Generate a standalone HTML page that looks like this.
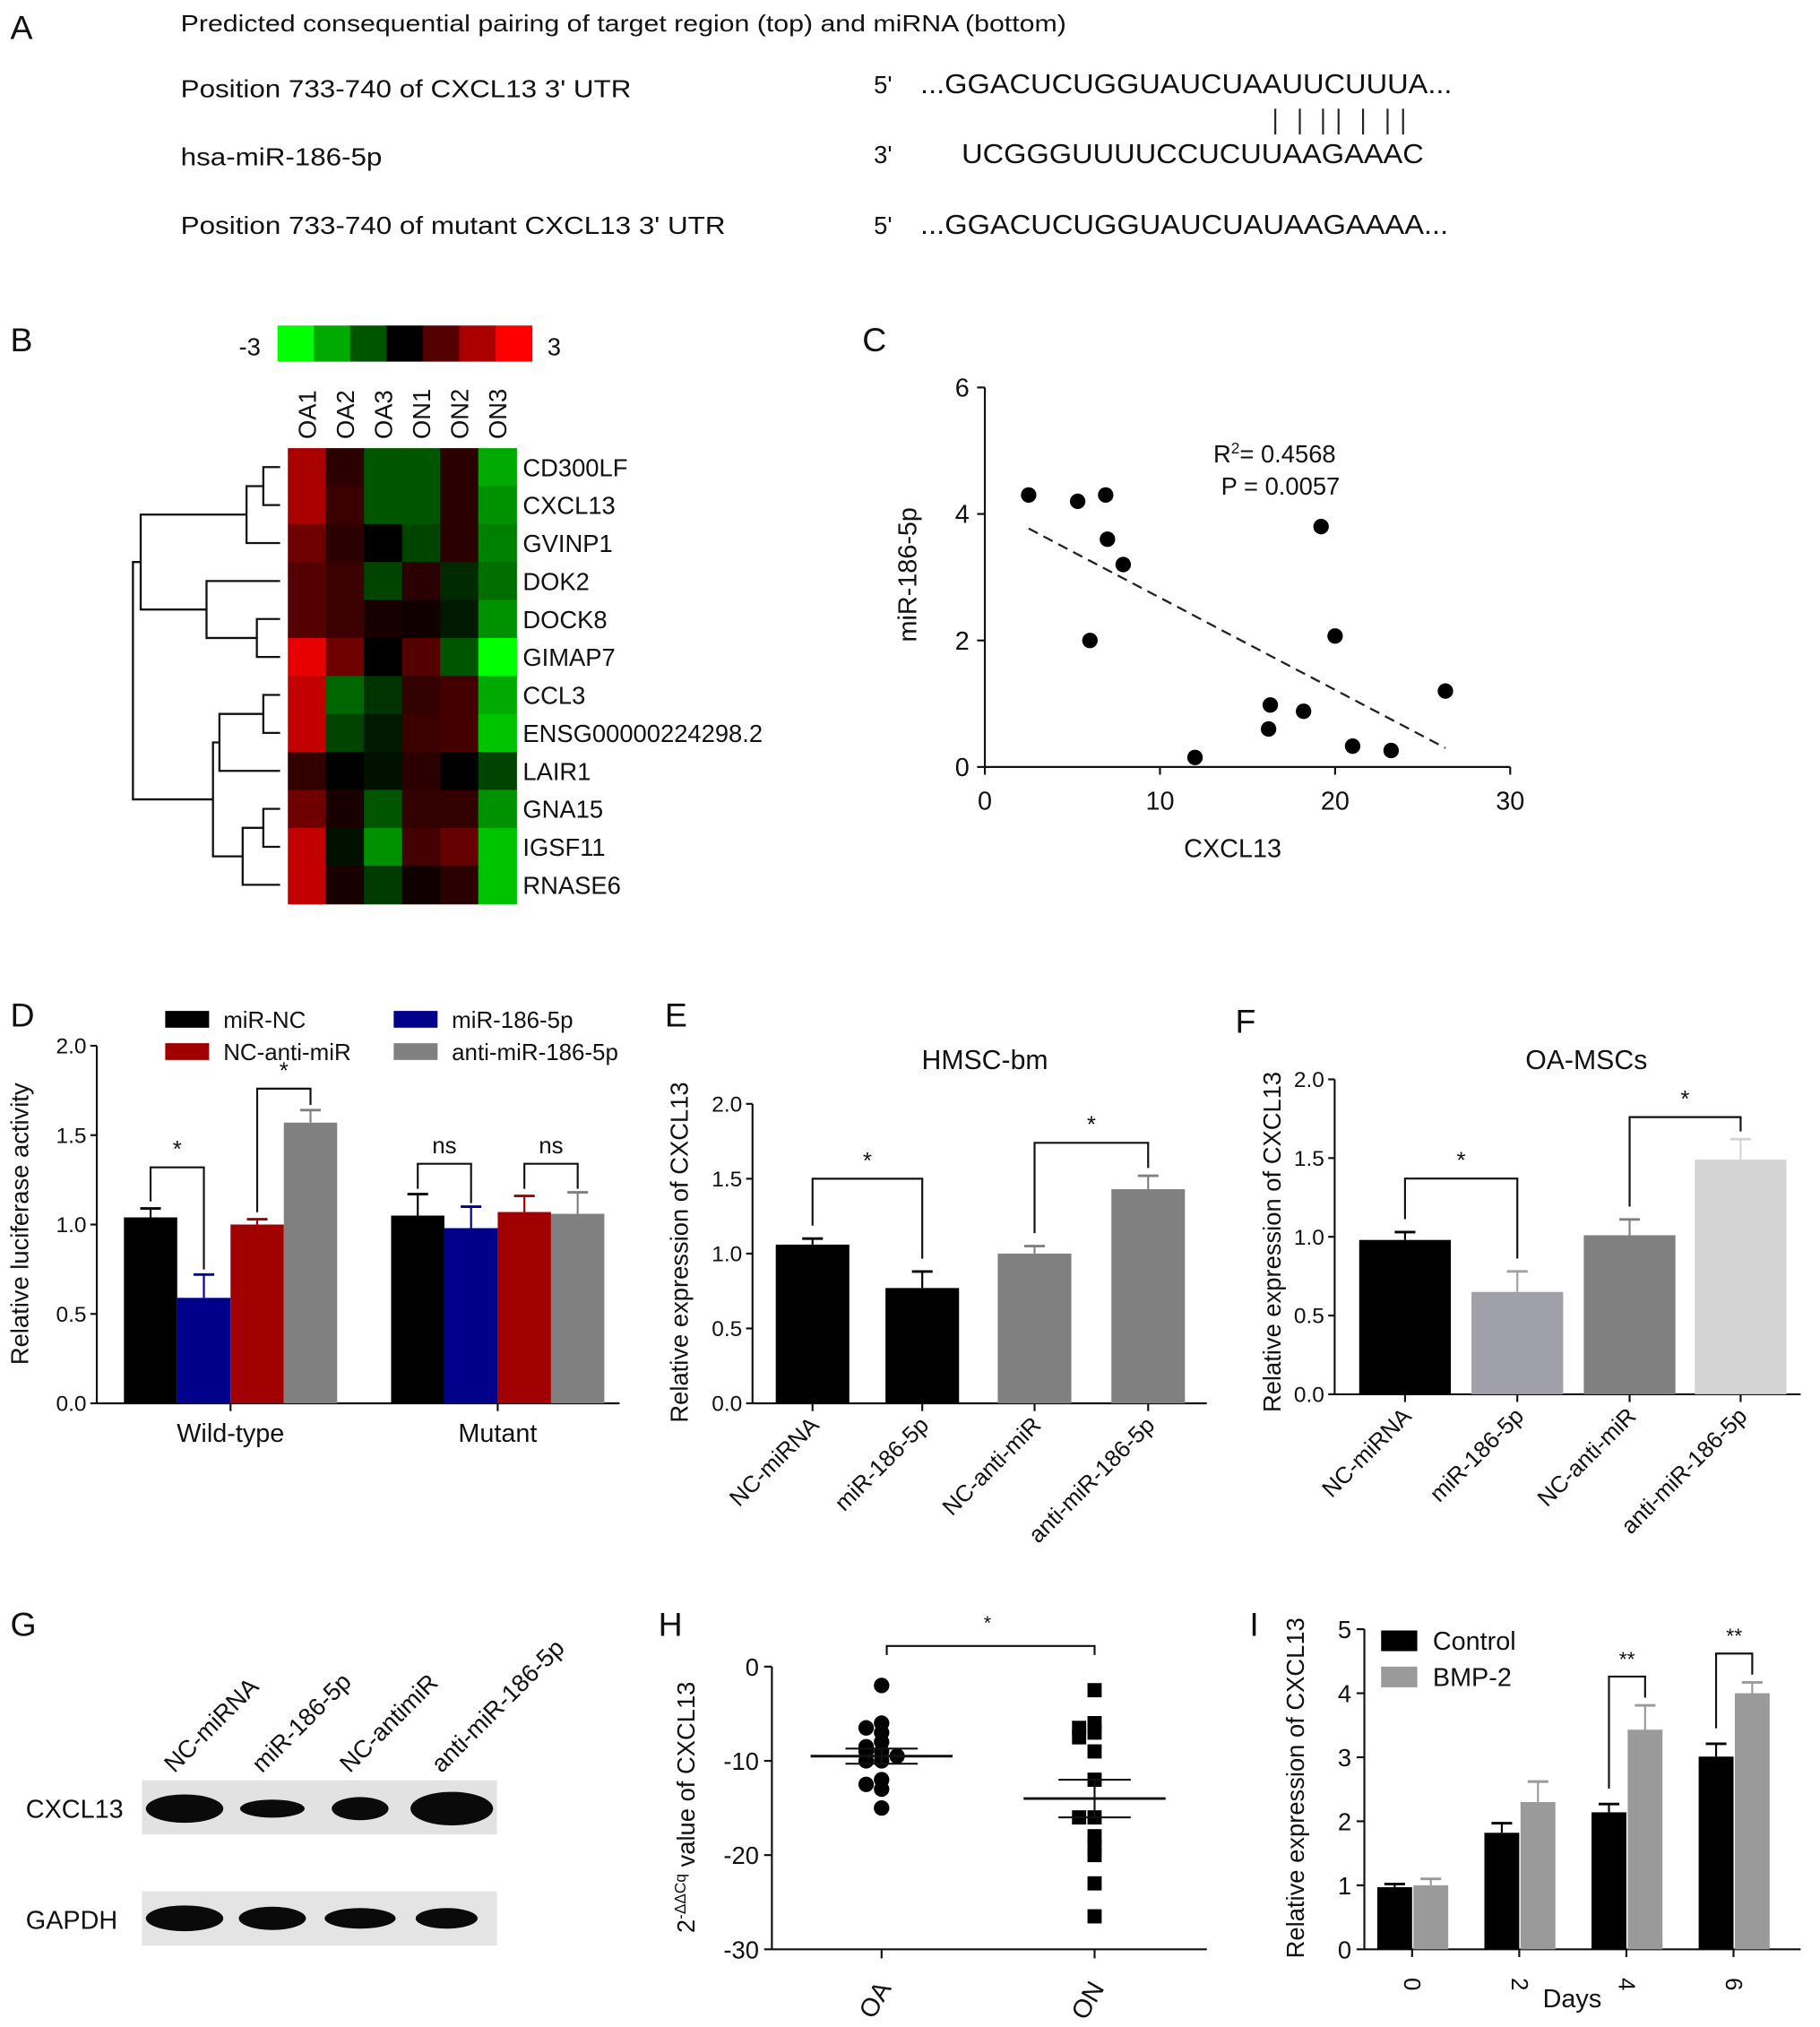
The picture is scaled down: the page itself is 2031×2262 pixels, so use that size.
<!DOCTYPE html>
<html><head><meta charset="utf-8"><style>
html,body{margin:0;padding:0;background:#fff}
svg{display:block}
text{font-family:"Liberation Sans",Arial,sans-serif;fill:#111}
</style></head><body>
<svg id="fig" xmlns="http://www.w3.org/2000/svg" width="2031" height="2262" viewBox="0 0 1410 1570">
<g>
<text x="8" y="30" font-size="26">A</text>
<text x="140" y="24" font-size="18" textLength="686" lengthAdjust="spacingAndGlyphs">Predicted consequential pairing of target region (top) and miRNA (bottom)</text>
<text x="140" y="75" font-size="19" textLength="349" lengthAdjust="spacingAndGlyphs">Position 733-740 of CXCL13 3' UTR</text>
<text x="140" y="128" font-size="19" textLength="156" lengthAdjust="spacingAndGlyphs">hsa-miR-186-5p</text>
<text x="140" y="181" font-size="19" textLength="422" lengthAdjust="spacingAndGlyphs">Position 733-740 of mutant CXCL13 3' UTR</text>
<text x="677" y="72" font-size="19">5'</text>
<text x="713" y="72" font-size="21" textLength="412" lengthAdjust="spacingAndGlyphs">...GGACUCUGGUAUCUAAUUCUUUA...</text>
<text x="677" y="126" font-size="19">3'</text>
<text x="745" y="126" font-size="21" textLength="358" lengthAdjust="spacingAndGlyphs">UCGGGUUUUCCUCUUAAGAAAC</text>
<text x="677" y="181" font-size="19">5'</text>
<text x="713" y="181" font-size="21" textLength="409" lengthAdjust="spacingAndGlyphs">...GGACUCUGGUAUCUAUAAGAAAA...</text>
<g id="pipes" stroke="#222" stroke-width="1.5"></g>
</g>
<g id="pB">
<text x="8" y="272" font-size="26">B</text>
</g>
<g id="pC">
<text x="668" y="272" font-size="26">C</text>
</g>
<g id="pD">
<text x="8" y="795" font-size="26">D</text>
</g>
<g id="pE">
<text x="515" y="795" font-size="26">E</text>
</g>
<g id="pF">
<text x="957" y="800" font-size="26">F</text>
</g>
<g id="pG">
<text x="8" y="1267" font-size="26">G</text>
</g>
<g id="pH">
<text x="510" y="1267" font-size="26">H</text>
</g>
<g id="pI">
<text x="968" y="1267" font-size="26">I</text>
</g>
</svg>
<script>
// ---------- data ----------
const pipeX = [988,1007,1025,1037,1056,1075,1087];
const heatCols = ["OA1","OA2","OA3","ON1","ON2","ON3"];
const heatGenes = ["CD300LF","CXCL13","GVINP1","DOK2","DOCK8","GIMAP7","CCL3","ENSG00000224298.2","LAIR1","GNA15","IGSF11","RNASE6"];
const heatVals = [
 [2,0.5,-1,-1,0.5,-2],
 [2,0.7,-1,-1,0.5,-1.7],
 [1.3,0.5,0,-0.8,0.5,-1.5],
 [1,0.7,-0.8,0.5,-0.5,-1.3],
 [1,0.7,0.3,0.2,-0.3,-1.7],
 [2.7,1.3,0,1,-1,-3],
 [2.3,-1.2,-0.6,0.6,0.8,-2],
 [2.3,-0.8,-0.3,0.7,0.8,-2.3],
 [0.6,0,-0.2,0.5,0,-0.8],
 [1.3,0.3,-1,0.6,0.6,-1.7],
 [2.3,-0.2,-1.7,0.8,1.2,-2.3],
 [2.3,0.3,-0.7,0.2,0.5,-2.3]];
const colorbarVals = [-3,-2,-1,0,1,2,3];
const scatterX = [2.5,5.3,6.9,7.0,7.9,6.0,19.2,20.0,16.3,16.2,18.2,21.0,23.2,26.3,12.0];
const scatterY = [4.3,4.2,4.3,3.6,3.2,2.0,3.8,2.07,0.98,0.6,0.88,0.33,0.26,1.2,0.15];
const fitX = [2.5,26.3];
const fitY = [3.77,0.3];
const cTicksX = [0,10,20,30];
const cTicksY = [0,2,4,6];
const dGroups = ["Wild-type","Mutant"];
const dSeries = ["miR-NC","miR-186-5p","NC-anti-miR","anti-miR-186-5p"];
const dVals = [[1.04,0.59,1.00,1.57],[1.05,0.98,1.07,1.06]];
const dErr = [[0.05,0.13,0.03,0.07],[0.12,0.12,0.09,0.12]];
const dTicks = [0,0.5,1.0,1.5,2.0];
const eCats = ["NC-miRNA","miR-186-5p","NC-anti-miR","anti-miR-186-5p"];
const eVals = [1.06,0.77,1.00,1.43];
const eErr = [0.04,0.11,0.05,0.09];
const fVals = [0.98,0.65,1.01,1.49];
const fErr = [0.05,0.13,0.10,0.13];
const gLanes = ["NC-miRNA","miR-186-5p","NC-antimiR","anti-miR-186-5p"];
const gCxcl = [[60,22],[50,14],[44,18],[64,26]];
const gGapdh = [[60,20],[52,18],[55,16],[48,16]];
const hOA = [-2,-6,-6.5,-7,-8,-8.5,-9,-9,-9.5,-10,-10,-12,-12.5,-13,-15];
const hON = [-2.5,-6,-6.5,-7,-7.5,-9,-12,-16,-16,-18,-19,-20,-23,-26.5];
const hMean = [-9.5,-14];
const hSem = [0.8,2];
const hTicks = [0,-10,-20,-30];
const iDays = ["0","2","4","6"];
const iCtrl = [0.97,1.82,2.14,3.01];
const iCtrlErr = [0.05,0.15,0.13,0.2];
const iBmp = [1.0,2.3,3.43,4.0];
const iBmpErr = [0.1,0.32,0.38,0.17];
const iTicks = [0,1,2,3,4,5];

// ---------- helpers ----------
const NS="http://www.w3.org/2000/svg";
function mk(parent,tag,attrs,name){
  const el=document.createElementNS(NS,tag);
  for(const k in attrs) el.setAttribute(k,attrs[k]);
  
  
  parent.appendChild(el); return el;
}
function txt(parent,x,y,s,size,name,extra){
  const a=Object.assign({x:x,y:y,'font-size':size},extra||{});
  const t=mk(parent,'text',a,name); t.textContent=s; return t;
}
function line(p,x1,y1,x2,y2,name,w,col){return mk(p,'line',{x1:x1,y1:y1,x2:x2,y2:y2,stroke:col||'#111','stroke-width':w||1.5},name);}
function heatColor(v){const t=Math.max(-1,Math.min(1,v/3));return t>=0?`rgb(${Math.round(255*t)},0,0)`:`rgb(0,${Math.round(-255*t)},0)`;}
function fmt(v){return v.toFixed(1);}

// ---------- A ----------
const pipes=document.getElementById('pipes');
pipeX.forEach(x=>line(pipes,x,84,x,104,'pair-line',1.5,'#222'));

// ---------- B heatmap ----------
const B=document.getElementById('pB');
const hx0=223,hx1=400,hy0=347,hy1=700;
const cw=(hx1-hx0)/heatCols.length, rh=(hy1-hy0)/heatGenes.length;
const cbx0=215,cbw=197/colorbarVals.length;
colorbarVals.forEach((v,i)=>mk(B,'rect',{x:cbx0+i*cbw,y:252,width:cbw+0.5,height:28,fill:heatColor(v)},'colorbar-cell'));
txt(B,185,275,'-3',19,'colorbar-min');
txt(B,424,275,'3',19,'colorbar-max');
heatVals.forEach((row,r)=>row.forEach((v,c)=>mk(B,'rect',{x:hx0+c*cw,y:hy0+r*rh,width:cw+0.5,height:rh+0.5,fill:heatColor(v)},'heatmap-cell')));
heatCols.forEach((s,c)=>{const x=hx0+(c+0.5)*cw+7,y=340;txt(B,x,y,s,19,'column-label',{transform:`rotate(-90 ${x} ${y})`});});
heatGenes.forEach((g,r)=>txt(B,405,hy0+(r+0.5)*rh+7,g,19,'gene-label'));
const rc=i=>hy0+(i+0.5)*rh;
function join(p,xa,ya,xb,yb,xn){
  const d=`M${xa},${ya}H${xn}V${yb}H${xb}`;
  mk(p,'path',{d:d,fill:'none',stroke:'#111','stroke-width':1.6},'dendrogram-branch');
  return [xn,(ya+yb)/2];
}
const L=217;
let n1=join(B,L,rc(0),L,rc(1),204);
let n2=join(B,n1[0],n1[1],L,rc(2),191);
let n3=join(B,L,rc(4),L,rc(5),199);
let n4=join(B,L,rc(3),n3[0],n3[1],160);
let n5=join(B,n2[0],n2[1],n4[0],n4[1],109);
let n6=join(B,L,rc(6),L,rc(7),204);
let n7=join(B,n6[0],n6[1],L,rc(8),170);
let n8=join(B,L,rc(9),L,rc(10),204);
let n9=join(B,n8[0],n8[1],L,rc(11),188);
let n10=join(B,n7[0],n7[1],n9[0],n9[1],165);
join(B,n5[0],n5[1],n10[0],n10[1],103);

// ---------- C scatter ----------
const C=document.getElementById('pC');
const cx=v=>763+v/30*407, cy=v=>594-v/6*294;
line(C,cx(0),cy(0),cx(30),cy(0),'x-axis');
line(C,cx(0),cy(0),cx(0),cy(6),'y-axis');
cTicksX.forEach(t=>{line(C,cx(t),cy(0),cx(t),cy(0)+6,'x-tick');txt(C,cx(t),cy(0)+33,String(t),20,'x-tick-label',{'text-anchor':'middle'});});
cTicksY.forEach(t=>{line(C,cx(0)-6,cy(t),cx(0),cy(t),'y-tick');txt(C,cx(0)-12,cy(t)+7,String(t),20,'y-tick-label',{'text-anchor':'end'});});
txt(C,955,664,'CXCL13',20,'x-axis-title',{'text-anchor':'middle'});
txt(C,710,445,'miR-186-5p',20,'y-axis-title',{'text-anchor':'middle',transform:'rotate(-90 710 445)'});
mk(C,'line',{x1:cx(fitX[0]),y1:cy(fitY[0]),x2:cx(fitX[1]),y2:cy(fitY[1]),stroke:'#222','stroke-width':1.6,'stroke-dasharray':'8,5'},'regression-line');
scatterX.forEach((x,i)=>mk(C,'circle',{cx:cx(x),cy:cy(scatterY[i]),r:6,fill:'#000'},'scatter-point'));
const r2=txt(C,940,358,'R',19,'r-squared-label');
const sup=document.createElementNS(NS,'tspan');sup.setAttribute('baseline-shift','super');sup.setAttribute('font-size','12');sup.textContent='2';r2.appendChild(sup);
const rest=document.createElementNS(NS,'tspan');rest.textContent='= 0.4568';r2.appendChild(rest);
txt(C,946,383,'P = 0.0057',19,'p-value-label');

// ---------- generic bar axis ----------
function barAxis(P,x0,x1,yf,ticks,name){
  line(P,x0,yf(0),x1,yf(0),name+'-x-axis');
  line(P,x0,yf(0),x0,yf(ticks[ticks.length-1]),name+'-y-axis');
  ticks.forEach(t=>{line(P,x0-5,yf(t),x0,yf(t),name+'-y-tick');txt(P,x0-8,yf(t)+6,fmt(t),17,name+'-y-tick-label',{'text-anchor':'end'});});
}
function bar(P,x,w,v,e,yf,col,name){
  mk(P,'rect',{x:x,y:yf(v),width:w,height:yf(0)-yf(v),fill:col},name);
  line(P,x+w/2,yf(v),x+w/2,yf(v+e),name+'-error',1.5,col);
  line(P,x+w/2-8,yf(v+e),x+w/2+8,yf(v+e),name+'-error-cap',2,col);
}
function bracket(P,xa,ya,xb,yb,ytop,label,name,size){
  mk(P,'path',{d:`M${xa},${ya}V${ytop}H${xb}V${yb}`,fill:'none',stroke:'#111','stroke-width':1.5},name);
  txt(P,(xa+xb)/2,ytop-8,label,size||18,name+'-label',{'text-anchor':'middle'});
}

// ---------- D ----------
const D=document.getElementById('pD');
const dy=v=>1087-v/2*277;
const dCols=['#000','#00008b','#a00000','#808080'];
const dStart=[96,303], dw=41.3;
barAxis(D,75,480,dy,dTicks,'d');
dGroups.forEach((g,gi)=>{
  dVals[gi].forEach((v,si)=>bar(D,dStart[gi]+si*dw,dw,v,dErr[gi][si],dy,dCols[si],'d-bar'));
  line(D,dStart[gi]+2*dw,dy(0),dStart[gi]+2*dw,dy(0)+6,'d-x-tick');
  txt(D,dStart[gi]+2*dw,1117,g,20,'d-x-label',{'text-anchor':'middle'});
});
txt(D,22,948,'Relative luciferase activity',19,'d-y-axis-title',{'text-anchor':'middle',transform:'rotate(-90 22 948)'});
const bw=(gi,si)=>dStart[gi]+(si+0.5)*dw;
bracket(D,bw(0,0),dy(1.1)-4,bw(0,1),dy(0.72)-4,dy(1.32),'*','d-sig-wt1');
bracket(D,bw(0,2),dy(1.04)-4,bw(0,3),dy(1.64)-4,dy(1.76),'*','d-sig-wt2');
bracket(D,bw(1,0),dy(1.2),bw(1,1),dy(1.12),dy(1.34),'ns','d-sig-mut1');
bracket(D,bw(1,2),dy(1.2),bw(1,3),dy(1.2),dy(1.34),'ns','d-sig-mut2');
const leg=[[128,783,0],[305,783,1],[128,808,2],[305,808,3]];
leg.forEach(([x,y,si])=>{mk(D,'rect',{x:x,y:y,width:34,height:13,fill:dCols[si]},'d-legend-swatch');txt(D,x+45,y+13,dSeries[si],18,'d-legend-label');});

// ---------- E & F ----------
function catPanel(P,x0,x1,y0,yTop,starts,w,vals,errs,cols,title,tx,ty,name,br){
  const yf=v=>y0-v/2*(y0-yTop);
  barAxis(P,x0,x1,yf,dTicks,name);
  vals.forEach((v,i)=>{
    bar(P,starts[i],w,v,errs[i],yf,cols[i],name+'-bar');
    const cxp=starts[i]+w/2;
    line(P,cxp,yf(0),cxp,yf(0)+6,name+'-x-tick');
    txt(P,cxp+6,yf(0)+18,eCats[i],18,name+'-x-label',{'text-anchor':'end',transform:`rotate(-45 ${cxp+6} ${yf(0)+18})`});
  });
  txt(P,tx,ty,title,21,name+'-title',{'text-anchor':'middle'});
  const c=i=>starts[i]+w/2;
  bracket(P,c(0),yf(vals[0]+errs[0])-10,c(1),yf(vals[1]+errs[1])-10,yf(br[0]),'*',name+'-sig-1');
  bracket(P,c(2),yf(vals[2]+errs[2])-10,c(3),yf(vals[3]+errs[3])-6,yf(br[1]),'*',name+'-sig-2');
  return yf;
}
const E=document.getElementById('pE');
catPanel(E,583,935,1087,855,[601,686,773,861],57,eVals,eErr,['#000','#000','#808080','#808080'],'HMSC-bm',763,828,'e',[1.50,1.74]);
txt(E,533,970,'Relative expression of CXCL13',19,'e-y-axis-title',{'text-anchor':'middle',transform:'rotate(-90 533 970)'});
const F=document.getElementById('pF');
catPanel(F,1034,1395,1080,836,[1053,1140,1227,1313],71,fVals,fErr,['#000','#a0a0a8','#808080','#d4d4d4'],'OA-MSCs',1229,828,'f',[1.37,1.76]);
txt(F,992,962,'Relative expression of CXCL13',19,'f-y-axis-title',{'text-anchor':'middle',transform:'rotate(-90 992 962)'});

// ---------- G ----------
const G=document.getElementById('pG');
const laneX=[143,211,279,350];
mk(G,'rect',{x:110,y:1379,width:275,height:42,fill:'#e2e2e2'},'cxcl13-blot-strip');
mk(G,'rect',{x:110,y:1465,width:275,height:42,fill:'#e4e4e4'},'gapdh-blot-strip');
gCxcl.forEach(([w,h],i)=>mk(G,'ellipse',{cx:laneX[i],cy:1401,rx:w/2,ry:h/2,fill:'#0a0a0a'},'cxcl13-band'));
gGapdh.forEach(([w,h],i)=>mk(G,'ellipse',{cx:laneX[i]+(i==3?-4:0),cy:1486,rx:w/2,ry:h/2,fill:'#0a0a0a'},'gapdh-band'));
txt(G,20,1408,'CXCL13',20,'cxcl13-row-label');
txt(G,20,1494,'GAPDH',20,'gapdh-row-label');
gLanes.forEach((s,i)=>{const x=laneX[i]-8,y=1374;txt(G,x,y,s,19,'lane-label',{transform:`rotate(-45 ${x} ${y})`});});

// ---------- H ----------
const H=document.getElementById('pH');
const hy=v=>1291+(-v)/30*219;
const hxOA=683,hxON=848;
line(H,598,hy(-30),935,hy(-30),'h-x-axis');
line(H,598,hy(-30),598,hy(0),'h-y-axis');
hTicks.forEach(t=>{line(H,592,hy(t),598,hy(t),'h-y-tick');txt(H,588,hy(t)+7,String(t),19,'h-y-tick-label',{'text-anchor':'end'});});
[hxOA,hxON].forEach(x=>line(H,x,hy(-30),x,hy(-30)+7,'h-x-tick'));
txt(H,hxOA+8,1540,'OA',20,'h-x-label',{'text-anchor':'end',transform:`rotate(-60 ${hxOA+8} 1540)`});
txt(H,hxON+8,1540,'ON',20,'h-x-label',{'text-anchor':'end',transform:`rotate(-60 ${hxON+8} 1540)`});
const jit=[0,-12,12,-24,24,-6,6,-18,18,-30,30];
function jitter(vals){const seen={};return vals.map(v=>{const k=Math.round(v);seen[k]=(seen[k]||0);const j=jit[seen[k]%jit.length];seen[k]++;return j;});}
const jOA=jitter(hOA), jON=jitter(hON);
hOA.forEach((v,i)=>mk(H,'circle',{cx:hxOA+jOA[i],cy:hy(v),r:6,fill:'#000'},'oa-point'));
hON.forEach((v,i)=>mk(H,'rect',{x:hxON+jON[i]-5.5,y:hy(v)-5.5,width:11,height:11,fill:'#000'},'on-point'));
[[hxOA,0],[hxON,1]].forEach(([x,k])=>{
  line(H,x-55,hy(hMean[k]),x+55,hy(hMean[k]),'h-mean-line',2);
  line(H,x,hy(hMean[k]+hSem[k]),x,hy(hMean[k]-hSem[k]),'h-sem-line',1.5);
  line(H,x-28,hy(hMean[k]+hSem[k]),x+28,hy(hMean[k]+hSem[k]),'h-sem-cap',1.5);
  line(H,x-28,hy(hMean[k]-hSem[k]),x+28,hy(hMean[k]-hSem[k]),'h-sem-cap',1.5);
});
mk(H,'path',{d:`M${hxOA+4},1282V1275H${hxON}V1282`,fill:'none',stroke:'#111','stroke-width':1.5},'h-sig-bracket');
txt(H,765,1262,'*',15,'h-sig-label',{'text-anchor':'middle'});
const hl=txt(H,538,1400,'2',19,'h-y-axis-title',{'text-anchor':'middle',transform:'rotate(-90 538 1400)'});
const hs=document.createElementNS(NS,'tspan');hs.setAttribute('baseline-shift','super');hs.setAttribute('font-size','12');hs.textContent='-ΔΔCq';hl.appendChild(hs);
const hr=document.createElementNS(NS,'tspan');hr.textContent=' value of CXCL13';hl.appendChild(hr);

// ---------- I ----------
const I=document.getElementById('pI');
const iy=v=>1510-v/5*248;
const iStart=[1067,1150,1233,1316], iw=27;
line(I,1057,iy(0),1395,iy(0),'i-x-axis');
line(I,1057,iy(0),1057,iy(5),'i-y-axis');
iTicks.forEach(t=>{line(I,1051,iy(t),1057,iy(t),'i-y-tick');txt(I,1047,iy(t)+7,String(t),19,'i-y-tick-label',{'text-anchor':'end'});});
iDays.forEach((d,i)=>{
  bar(I,iStart[i],iw,iCtrl[i],iCtrlErr[i],iy,'#000','i-bar-control');
  bar(I,iStart[i]+iw+1,iw,iBmp[i],iBmpErr[i],iy,'#9a9a9a','i-bar-bmp2');
  const c=iStart[i]+iw;
  line(I,c,iy(0),c,iy(0)+6,'i-x-tick');
  txt(I,c-6,1532,d,18,'i-x-label',{transform:`rotate(90 ${c-6} 1532)`});
});
txt(I,1218,1555,'Days',20,'i-x-axis-title',{'text-anchor':'middle'});
txt(I,1010,1385,'Relative expression of CXCL13',19,'i-y-axis-title',{'text-anchor':'middle',transform:'rotate(-90 1010 1385)'});
[2,3].forEach(i=>{const a=iStart[i]+iw/2,b=iStart[i]+iw*1.5+1;bracket(I,a,iy(iCtrl[i]+iCtrlErr[i])-12,b,iy(iBmp[i]+iBmpErr[i])-6,iy(iBmp[i]+iBmpErr[i]+0.45),'**','i-sig',16);});
mk(I,'rect',{x:1070,y:1263,width:28,height:16,fill:'#000'},'i-legend-swatch');
txt(I,1110,1278,'Control',20,'i-legend-label');
mk(I,'rect',{x:1070,y:1291,width:28,height:16,fill:'#9a9a9a'},'i-legend-swatch');
txt(I,1110,1306,'BMP-2',20,'i-legend-label');
</script>
</body></html>
